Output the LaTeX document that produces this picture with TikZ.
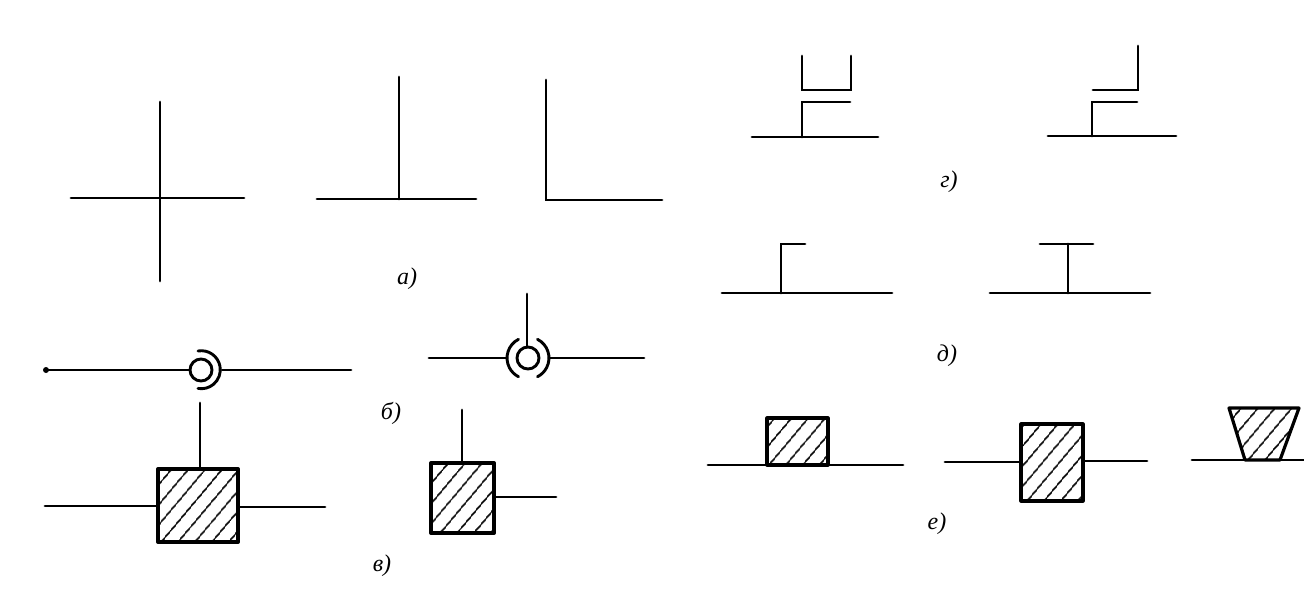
\documentclass[tikz,border=0pt]{standalone}
\usepackage{fontspec}
\setmainfont{Liberation Serif}
\usetikzlibrary{patterns.meta}
\usetikzlibrary{calc}
\tikzset{
    wire/.style={line width=2.9pt,line cap=round,line join=miter},
    shaded/.style={line width=3.2pt,line join=round,pattern={Lines[angle=50,distance=13pt,line width=1.6pt]}},
    lab/.style={font=\itshape\fontsize{24}{24}\selectfont}
}
\begin{document}
\begin{tikzpicture}[x=1pt,y=-1pt]
            \useasboundingbox (0,0) rectangle (1304,592);

            % a
            \coordinate (A1) at (71,198);
            \coordinate (A2) at (244,198);
            \coordinate (A3) at (160,102);
            \coordinate (A4) at (160,281);
            \draw[wire] (A1) -- (A2) (A3) -- (A4);
            \coordinate (A5) at (317,199);
            \coordinate (A6) at (476,199);
            \coordinate (A7) at (399,77);
            \coordinate (A8) at (399,199);
            \draw[wire] (A5) -- (A6) (A7) -- (A8);
            \coordinate (A9) at (546,80);
            \coordinate (A10) at (546,200);
            \coordinate (A11) at (662,200);
            \draw[wire] (A9) -- (A10) -- (A11);

            % b
            \coordinate (B1) at (46,370);
            \coordinate (B2) at (201,370);
            \coordinate (B3) at (222,370);
            \coordinate (B4) at (351,370);
            \draw[wire] (B2) circle (11);
            \draw[wire] (B1) -- (190,370) (B3) -- (B4);
            \fill (B1) circle (3);
            \draw[wire] ($(B2)+(-3,-19)$) arc[start angle=-100,end angle=100,radius=19];
            \coordinate (B5) at (429,358);
            \coordinate (B6) at (528,358);
            \coordinate (B7) at (549,358);
            \coordinate (B8) at (644,358);
            \coordinate (B9) at (527,294);
            \draw[wire] (B6) circle (11);
            \draw[wire] (B5) -- (507,358) (B7) -- (B8) (B9) -- (527,347);
            \draw[wire] (518.5,339.3) arc[start angle=-117,end angle=-243,radius=21];
            \draw[wire] (537.5,339.3) arc[start angle=-63,end angle=63,radius=21];

            % c
            \coordinate (C1) at (158,469);
            \coordinate (C2) at (238,542);
            \draw[shaded,line width=4pt] (C1) rectangle (C2);
            \draw[wire] (200,403) -- (200,469) (45,506) -- (158,506) (238,507) -- (325,507);
            \coordinate (C3) at (431,463);
            \coordinate (C4) at (494,533);
            \draw[shaded,line width=4pt] (C3) rectangle (C4);
            \draw[wire] (462,410) -- (462,463) (494,497) -- (556,497);

            % d
            \draw[wire] (752,137) -- (878,137) (802,137) -- (802,102) -- (850,102);
            \draw[wire] (802,56) -- (802,90) -- (851,90) -- (851,56);
            \draw[wire] (1048,136) -- (1176,136) (1092,136) -- (1092,102) -- (1137,102);
            \draw[wire] (1093,90) -- (1138,90) -- (1138,46);

            % e
            \draw[wire] (722,293) -- (892,293) (781,293) -- (781,244) -- (805,244);
            \draw[wire] (990,293) -- (1150,293) (1068,293) -- (1068,244) (1040,244) -- (1093,244);

            % f
            \coordinate (F1) at (767,418);
            \coordinate (F2) at (828,465);
            \draw[shaded] (F1) rectangle (F2);
            \draw[wire] (708,465) -- (903,465);
            \coordinate (F3) at (1021,424);
            \coordinate (F4) at (1083,501);
            \draw[shaded] (F3) rectangle (F4);
            \draw[wire] (945,462) -- (1021,462) (1083,461) -- (1147,461);
            \coordinate (F5) at (1229,408);
            \coordinate (F6) at (1299,408);
            \coordinate (F7) at (1280,460);
            \coordinate (F8) at (1245,460);
            \draw[shaded] (F5) -- (F6) -- (F7) -- (F8) -- cycle;
            \draw[wire] (1192,460) -- (1304,460);

            \foreach \p/\x/\y/\t in {la/407/279/а,lb/391/413/б,lc/382/566/в,ld/949/182/г,le/947/356/д,lf/937/524/е} {
                \node[lab] (\p) at (\x,\y) {\t)};
            }
        \end{tikzpicture}
\end{document}
